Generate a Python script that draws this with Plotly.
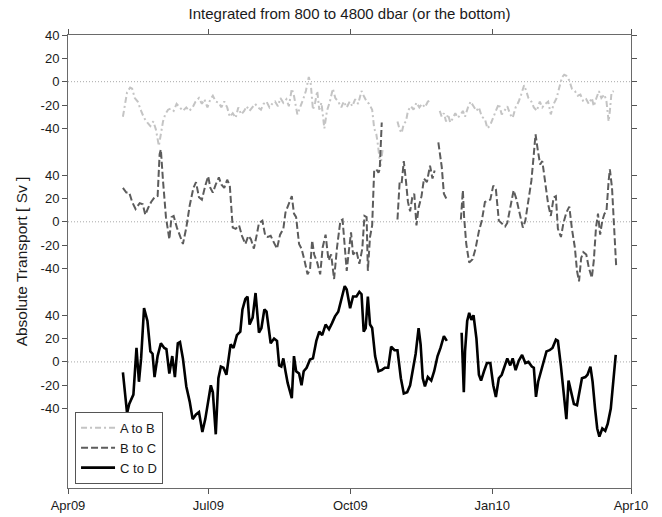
import datetime as dt
import plotly.graph_objects as go

# ---------------- data ----------------
start_date = "2009-04-01"
end_date = "2010-04-01"

xtick_dates = ["2009-04-01", "2009-07-01", "2009-10-01", "2010-01-01", "2010-04-01"]
xtick_labels = ["Apr09", "Jul09", "Oct09", "Jan10", "Apr10"]

ytick_values = [-40, -20, 0, 20, 40]
ytick_labels = ["-40", "-20", "0", "20", "40"]

series_names = ["A to B", "B to C", "C to D"]
series_offsets = [240, 120, 0]

# days since 2009-04-01 (None = gap)
ab_days = [35.6, 37.0, 38.3, 40.3, 41.6, 43.3, 45.2, 47.4, 49.3, 51.5,
           53.4, 55.3, 57.0, 58.9, 60.2, 61.6, 63.0, 64.9, 66.5, 68.5,
           70.4, 72.6, 74.5, 76.7, 78.6, 80.8, 82.7, 84.9, 86.8, 88.4,
           90.4, 92.3, 93.9, 95.8, 97.8, 99.4, 101.3, 103.2, 104.9, 106.8,
           108.7, 110.4, 112.3, 114.2, 115.8, 117.7, 119.7, 121.3, 123.2, 125.1,
           126.8, 128.7, 130.6, 132.3, 134.2, 136.1, 137.7, 139.6, 141.6, 143.2,
           145.1, 146.5, 148.7, 150.6, 152.5, 154.2, 156.1, 157.4, 158.8, 160.2,
           161.6, 162.9, 164.3, 166.2, 167.9, 169.8, 171.7, 173.3, 175.2, 177.2,
           178.8, 180.7, 182.6, 184.3, 186.2, 188.1, 190.3, 191.7, 193.6, 195.2,
           197.2, 198.5, 199.9, 200.7, 201.8, 202.6, 204.0,
           None,
           213.6, 215.0, 216.3, 217.7, 219.1, 220.4, 222.3, 224.0, 225.9, 227.8,
           229.5, 231.4, 233.3, 234.9,
           None,
           241.0, 242.3, 243.7, 245.1, 246.4, 247.8, 249.2, 251.1, 252.7, 254.7,
           256.0, 257.4, 259.3, 261.0, 262.9, 264.8, 266.4, 268.3, 270.3, 271.9,
           273.8, 275.7, 277.4, 279.3, 281.2, 282.9, 284.8, 286.7, 288.3, 290.2,
           292.2, 293.8, 295.7, 297.1, 298.5, 300.4, 302.0, 303.9, 305.9, 307.5,
           309.4, 311.3, 313.0, 314.9, 316.8, 318.5, 320.4, 321.7, 323.1, 325.0,
           326.7, 328.6, 330.5, 332.2, 334.1, 336.0, 337.6, 339.6, 340.9, 342.3,
           344.2, 345.8, 347.8, 349.1, 350.5, 351.3, 352.4, 353.8]
ab_vals = [-30, -17, -9, -5, -6, -14, -17, -25, -31, -35,
           -38, -34, -41, -55, -43, -34, -28, -24, -23, -25,
           -19, -22, -25, -22, -25, -22, -17, -14, -19, -15,
           -22, -15, -12, -17, -18, -22, -17, -22, -30, -27,
           -31, -22, -28, -25, -21, -25, -22, -19, -22, -24,
           -19, -17, -22, -19, -17, -21, -14, -18, -15, -21,
           -6, -12, -28, -22, -15, -8, 4, -2, -24, -18,
           -8, -24, -18, -40, -25, -17, -6, -14, -17, -22,
           -17, -22, -17, -21, -15, -19, -8, -12, -17, -19,
           -24, -40, -45, -52, -65, -72, -58,
           None,
           -34, -41, -44, -36, -34, -25, -21, -24, -18, -22,
           -19, -22, -17, -16,
           None,
           -25, -30, -27, -34, -28, -35, -32, -27, -31, -28,
           -25, -30, -22, -17, -21, -25, -22, -30, -32, -40,
           -37, -30, -25, -19, -28, -25, -21, -28, -31, -22,
           -17, -11, -3, -8, -14, -17, -22, -25, -17, -22,
           -19, -17, -28, -19, -14, -5, 4, 6, 5, 1,
           -6, -8, -12, -11, -17, -15, -19, -14, -21, -15,
           -8, -14, -11, -17, -34, -25, -9, -8]

bc_days = [35.6, 37.8, 39.7, 41.6, 43.8, 46.5, 48.5, 50.1, 52.0, 53.9,
           56.1, 58.1, 59.4, 60.2, 61.6, 63.5, 65.7, 67.1, 68.5, 70.6,
           72.6, 74.5, 76.7, 78.9, 81.3, 83.0, 84.9, 86.8, 89.0, 90.9,
           92.3, 93.9, 95.8, 97.8, 99.4, 101.3, 103.2, 104.9, 106.8, 108.7,
           110.9, 112.8, 115.0, 116.9, 118.6, 120.5, 122.4, 123.8, 126.0, 127.9,
           129.5, 131.4, 133.6, 135.5, 137.5, 139.6, 141.0, 143.2, 145.1, 146.5,
           147.9, 149.8, 151.4, 153.3, 155.3, 156.9, 158.3, 159.6, 161.6, 163.5,
           165.1, 167.0, 168.9, 170.6, 172.5, 174.4, 176.6, 178.0, 179.4, 180.7,
           182.1, 183.5, 184.8, 187.0, 188.9, 190.8, 192.2, 193.6, 194.4, 195.8,
           197.2, 198.5, 199.9, 201.3, 202.1, 203.4,
           None,
           213.6, 215.0, 216.3, 217.7, 219.1, 220.4, 221.8, 223.2, 224.5, 225.9,
           227.3, 229.2, 230.8, 232.7, 234.7, 236.3, 237.7,
           None,
           240.1, 242.3, 243.7, 245.6,
           None,
           254.7, 256.0, 256.8, 258.2, 260.1, 262.3, 264.2, 266.4, 268.3, 270.3,
           271.9, 273.8, 275.7, 277.4, 279.3, 281.2, 283.4, 284.8, 286.7, 288.9,
           290.8, 293.0, 294.9, 296.5, 298.5, 300.4, 302.0, 303.1, 304.5, 306.1,
           307.5, 309.4, 311.3, 313.0, 314.9, 316.3, 317.6, 319.6, 321.2, 323.1,
           325.0, 326.7, 328.6, 330.0, 331.3, 332.7, 334.1, 336.0, 337.6, 339.6,
           340.9, 342.3, 343.6, 345.0, 346.4, 347.8, 349.1, 350.5, 351.3, 352.7,
           354.0, 355.4]
bc_vals = [29, 25, 25, 17, 11, 16, 15, 6, 12, 17,
           21, 22, 58, 62, 35, 4, -15, 4, 5, -5,
           -12, -19, -5, 14, 29, 34, 21, 19, 31, 39,
           29, 25, 32, 38, 32, 29, 36, 31, -5, -6,
           -3, -12, -19, -12, -15, -23, -11, -1, 1, -12,
           -13, -12, -18, -23, -11, -6, 8, 15, 22, 7,
           4, -19, -23, -33, -45, -41, -16, -28, -35, -45,
           -22, -11, -33, -28, -49, -22, 1, 2, -21, -42,
           -25, -9, -28, -25, -36, -23, 5, 4, -42, -13,
           -3, 44, 45, 42, 45, 85,
           None,
           2, 34, 33, 52, 35, 17, 9, 21, 24, -3,
           12, 22, 37, 34, 48, 37, 44,
           None,
           68, 47, 24, 19,
           None,
           2, 27, 4, -19, -35, -32, -23, -8, 1, 17,
           18, 19, 31, 28, 1, -1, -4, -1, 12, 27,
           19, 7, -5, 1, 17, 35, 58, 75, 62, 49,
           52, 32, 15, 5, 21, 22, -6, -13, -1, 8,
           13, -6, -22, -42, -51, -31, -26, -28, -39, -48,
           -33, -5, 7, -11, 1, 7, 9, 35, 45, 29,
           -8, -38]

cd_days = [35.6, 38.3, 39.7, 42.4, 44.4, 46.0, 47.4, 49.3, 51.5, 53.4,
           54.8, 56.1, 58.1, 60.2, 62.4, 63.8, 65.7, 67.6, 69.3, 71.2,
           72.6, 74.5, 76.7, 78.9, 80.8, 83.0, 84.9, 87.1, 89.0, 90.9,
           92.6, 93.9, 95.8, 97.5, 99.1, 100.8, 102.7, 105.4, 107.3, 109.5,
           111.7, 113.1, 115.0, 116.4, 117.7, 119.7, 121.6, 123.8, 125.4, 127.3,
           128.7, 131.4, 133.6, 135.5, 136.9, 138.3, 139.6, 141.0, 142.4, 145.1,
           146.5, 147.9, 149.8, 151.4, 152.8, 154.7, 156.9, 158.8, 161.0, 162.9,
           164.8, 167.0, 169.2, 171.1, 173.1, 175.2, 177.4, 179.4, 180.7, 182.9,
           184.8, 187.0, 188.9, 190.3, 191.7, 193.0, 194.4, 195.8, 197.2, 199.1,
           201.3, 203.4, 205.4, 207.6, 209.5, 211.7, 213.6, 215.8, 217.7, 219.9,
           221.8, 223.7, 225.4, 227.3, 228.6, 230.0, 231.4, 233.3, 235.5, 237.4,
           239.6, 241.5, 243.7, 245.6,
           None,
           255.2, 256.6, 257.4, 258.8, 260.1, 261.5, 262.9, 264.8, 266.4, 267.8,
           269.7, 271.6, 273.8, 275.7, 277.4, 279.3, 281.2, 282.9, 284.8, 286.7,
           288.3, 290.2, 292.2, 294.4, 296.5, 298.5, 300.7, 302.0, 303.4, 304.8,
           306.7, 308.6, 310.2, 312.2, 314.1, 316.3, 317.6, 319.6, 321.2, 323.1,
           324.5, 326.4, 328.0, 330.0, 331.3, 333.2, 335.4, 336.8, 338.7, 340.1,
           341.7, 343.1, 344.5, 346.4, 348.3, 349.9, 351.9, 353.2, 355.1]
cd_vals = [-9, -44, -36, -28, 12, -17, 3, 46, 35, 9,
           7, -13, 5, 16, 12, 11, -10, 5, -13, 16,
           17, 3, -21, -34, -49, -45, -43, -60, -49, -33,
           -20, -26, -62, -14, -4, -5, -11, 15, 12, 23,
           26, 45, 54, 56, 32, 38, 59, 25, 29, 45,
           43, 16, 20, 18, -3, -4, 3, -8, -18, -31,
           5, -8, -10, -20, -8, -5, 2, 3, 18, 26,
           23, 32, 28, 33, 39, 43, 55, 65, 62, 46,
           56, 56, 60, 58, 26, 29, 56, 32, 29, 5,
           -8, -7, -5, -5, 13, 10, 10, -14, -27, -26,
           -20, -7, 7, 29, 15, -14, -21, -13, -16, -8,
           5, 12, 22, 18,
           None,
           25, -26, 9, 35, 42, 36, 40, 20, -11, -16,
           -8, -1, -1, -20, -30, -14, -11, -4, 3, -3,
           3, -7, 1, 6, -1, 0, -4, -5, -30, -17,
           -8, 2, 9, 10, 12, 19, 18, -4, -23, -49,
           -16, -28, -36, -37, -28, -14, -13, -11, -4, -17,
           -40, -57, -64, -57, -59, -53, -40, -20, 6]

series_days = [ab_days, bc_days, cd_days]
series_vals = [ab_vals, bc_vals, cd_vals]

# ---------------- styles ----------------
series_colors = ["#c4c4c4", "#5c5c5c", "#000000"]
series_dash = ["6px,3px,2px,3px", "7px,3px", "solid"]
series_width = [2, 2, 2.6]
FONT = "Liberation Sans, Arial, Helvetica, sans-serif"

t0 = dt.datetime.strptime(start_date, "%Y-%m-%d")


def to_dates(days):
    return [None if d is None else (t0 + dt.timedelta(days=d)).strftime("%Y-%m-%d %H:%M")
            for d in days]


fig = go.Figure()
for name, off, days, vals, col, dsh, w in zip(series_names, series_offsets, series_days,
                                             series_vals, series_colors, series_dash,
                                             series_width):
    if len(days) != len(vals):
        raise ValueError(f"{name}: {len(days)} days vs {len(vals)} values")
    fig.add_trace(go.Scatter(
        x=to_dates(days),
        y=[None if v is None else v + off for v in vals],
        mode="lines", name=name, connectgaps=False,
        line=dict(color=col, width=w, dash=dsh),
    ))

# zero reference lines of each group
for off in series_offsets:
    fig.add_shape(type="line", xref="paper", x0=0, x1=1, yref="y", y0=off, y1=off,
                  line=dict(color="#a8a8a8", width=1, dash="1px,2px"), layer="below")

tickvals, ticktext = [], []
for off in sorted(series_offsets):
    for v, t in zip(ytick_values, ytick_labels):
        tickvals.append(v + off)
        ticktext.append(t)

fig.update_layout(
    width=662, height=517,
    margin=dict(l=68, r=31, t=35, b=29, autoexpand=False),
    paper_bgcolor="white", plot_bgcolor="white",
    font=dict(family=FONT, size=13, color="#1a1a1a"),
    title=dict(text="Integrated from 800 to 4800 dbar (or the bottom)",
               x=0.5, xref="paper", xanchor="center",
               y=1 - 14 / 517, yref="container", yanchor="middle",
               font=dict(family=FONT, size=15, color="#1a1a1a")),
    showlegend=True,
    legend=dict(x=0.0125, y=0.009, xanchor="left", yanchor="bottom",
                bgcolor="white", bordercolor="#555555", borderwidth=1,
                font=dict(family=FONT, size=13, color="#1a1a1a"),
                tracegroupgap=0, itemwidth=34),
    xaxis=dict(type="date", range=[start_date, end_date],
               tickvals=xtick_dates, ticktext=xtick_labels, automargin=False,
               ticks="outside", ticklen=5, tickcolor="#555555",
               showline=True, linecolor="#6a6a6a", linewidth=1, mirror="ticks",
               showgrid=False, zeroline=False),
    yaxis=dict(range=[-108, 280], tickvals=tickvals, ticktext=ticktext, automargin=False,
               ticks="outside", ticklen=5, tickcolor="#555555",
               showline=True, linecolor="#6a6a6a", linewidth=1, mirror="ticks",
               showgrid=False, zeroline=False,
               title=dict(text="Absolute Transport [ Sv ]", standoff=9,
                          font=dict(family=FONT, size=15.5, color="#1a1a1a"))),
)

fig.write_html("out.html",
               config={"displayModeBar": False},
               post_script="document.body.style.margin='0px';"
                           "document.body.style.overflow='hidden';")
